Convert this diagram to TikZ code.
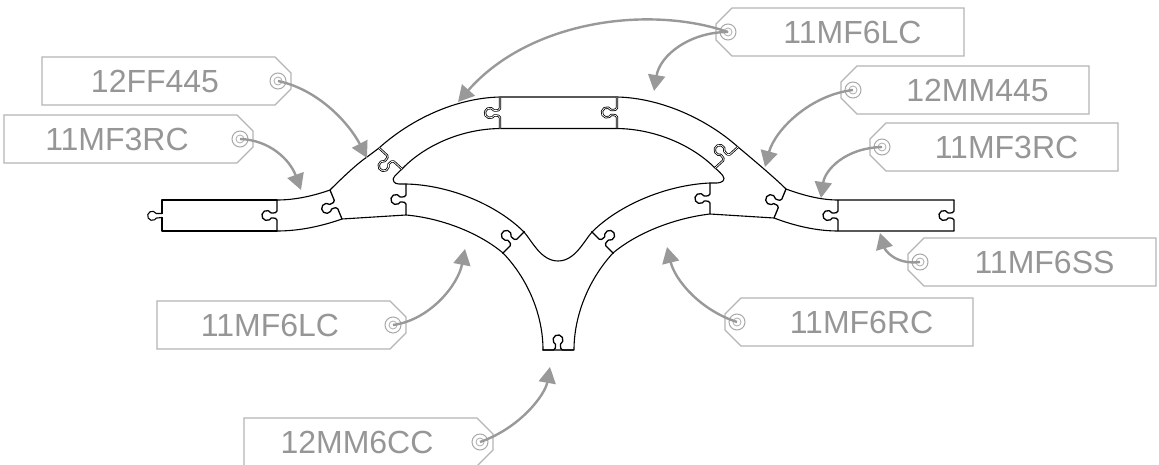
\documentclass[tikz,border=0pt]{standalone}
\usepackage{fontspec}
\setmainfont{Liberation Sans}
\usetikzlibrary{arrows.meta}
\definecolor{rail}{HTML}{000000}
\definecolor{tagedge}{HTML}{B4B4B4}
\definecolor{taglabel}{HTML}{969696}
\definecolor{tagring}{HTML}{A8A8A8}
\definecolor{pointer}{HTML}{999999}
\tikzset{
  railedge/.style={draw=rail, line width=1.1pt, line cap=round, line join=round},
  railjoint/.style={draw=rail, line width=1.3pt, line join=round},
  raildouble/.style={draw=rail, line width=0.8pt, double=white, double distance=0.7pt, line join=round},
  tagline/.style={draw=tagedge, line width=1.1pt, line join=miter},
  tagtext/.style={text=taglabel, font=\fontsize{32}{36}\selectfont, inner sep=0pt},
  taghole/.style={circle, draw=tagring, line width=1pt, minimum size=16pt, inner sep=0pt},
  pointerline/.style={draw=pointer, line width=2.4pt, -{Triangle[length=16pt,width=17pt]}},
  joint/.pic={
    \draw[#1] (0,-15.6) -- (0,-4.6) .. controls (0,-2.8) and (-2,-2.5) .. (-5.8,-2.5)
      arc[start angle=-30, end angle=-330, radius=5] .. controls (-2,2.5) and (0,2.8) .. (0,4.6) -- (0,15.6);
  },
}
\begin{document}
\begin{tikzpicture}[x=1pt,y=-1pt]
  \useasboundingbox (0,0) rectangle (1159,465);
  \foreach \n/\x/\y/\t in {ff445/42/57/12FF445,mf3rcl/4/115/11MF3RC,mf6lclow/157/301/11MF6LC,mm6cc/244/418/12MM6CC}{
    \draw[tagline] (\x,\y) -- ++(233,0) -- ++(16,16) -- ++(0,16) -- ++(-16,16) -- ++(-233,0) -- cycle;
    \node[taghole] (\n-hole) at (\x+236,\y+24) {};
    \draw[tagline, line width=0.9pt] (\n-hole) circle (4);
    \node[tagtext] (\n) at (\x+113,\y+24) {\t};
  }
  \foreach \n/\x/\y/\t in {mf6lctop/716/8/11MF6LC,mm445/841/66/12MM445,mf3rcr/870/123/11MF3RC,mf6ss/908/238/11MF6SS,mf6rc/725/298/11MF6RC}{
    \draw[tagline] (\x,\y+16) -- ++(16,-16) -- ++(232,0) -- ++(0,48) -- ++(-232,0) -- ++(-16,-16) -- cycle;
    \node[taghole] (\n-hole) at (\x+12,\y+24) {};
    \draw[tagline, line width=0.9pt] (\n-hole) circle (4);
    \node[tagtext] (\n) at (\x+136.5,\y+24) {\t};
  }

  \draw[railedge] (277,200) -- (162,200) -- (162,213.5);
  \draw[railedge] (162,217.5) -- (162,231) -- (277,231);
  \draw[railedge] (162,213.5) -- (156.2,213.5) arc[start angle=-30, end angle=-330, radius=4.6] -- (162,217.5);
  \draw[railedge] (277,200) .. controls (295,200) and (313,196) .. (330,190)
    .. controls (343,177) and (358,163) .. (367,157) .. controls (371,154) and (375,151) .. (379,148)
    .. controls (410,120) and (455,98) .. (500,97) -- (617,97)
    .. controls (662,98) and (708,120) .. (738,147)
    .. controls (750,157) and (775,178) .. (786,189)
    .. controls (805,196) and (822,200) .. (838,200) -- (954,200);
  \draw[railedge] (277,231) .. controls (300,231) and (322,226) .. (342,219) -- (406,215)
    .. controls (440,218) and (478,232) .. (503,253)
    .. controls (528,279) and (543,315) .. (543,350) -- (574,350)
    .. controls (574,315) and (589,279) .. (613,253)
    .. controls (638,232) and (676,218) .. (710,214) -- (774,218)
    .. controls (795,226) and (817,231) .. (838,231) -- (954,231);
  \draw[railedge] (500,128.5) .. controls (462,129) and (425,145) .. (402,169)
    .. controls (396,175) and (391,178) .. (394,182) .. controls (396,184.5) and (400,184) .. (406,184)
    .. controls (450,185) and (497,205) .. (524,232)
    .. controls (532,241) and (541,261) .. (558,261) .. controls (575,261) and (584,241) .. (592,232)
    .. controls (619,205) and (666,185) .. (710,183)
    .. controls (716,183) and (720,183.5) .. (723,181) .. controls (726,178) and (722,174) .. (715,168)
    .. controls (692,145) and (655,129) .. (617,128.5) -- (500,128.5);

  \foreach \x/\y/\r in {277/215.5/0,336/204.5/22.5,406/199.5/0,513.5/242.5/-45,602.5/242.5/225,558/350/270,710/198.5/0,780/203.5/-22.5,838/215.5/0,954/215.5/0}{
    \pic[rotate=\r] at (\x,\y) {joint=railjoint};
  }
  \foreach \x/\y/\r in {390.5/158.5/47.4,500/113/0,617/112.5/0,726.5/157.5/-47.6}{
    \pic[rotate=\r] at (\x,\y) {joint=raildouble};
  }

  \coordinate (ff445-end) at (367,158);
  \coordinate (mf3rcl-end) at (301,190);
  \coordinate (mf6lctop-enda) at (458,102);
  \coordinate (mf6lctop-endb) at (654,91);
  \coordinate (mm445-end) at (765,167);
  \coordinate (mf3rcr-end) at (821,198);
  \coordinate (mf6ss-end) at (880,233);
  \coordinate (mf6rc-end) at (667,247);
  \coordinate (mf6lclow-end) at (465,249);
  \coordinate (mm6cc-end) at (550,367);
  \draw[pointerline] (ff445-hole.center) .. controls (320,90) and (350,125) .. (ff445-end);
  \draw[pointerline] (mf3rcl-hole.center) .. controls (270,140) and (290,160) .. (mf3rcl-end);
  \draw[pointerline] (mf6lctop-hole.center) .. controls (650,5) and (530,20) .. (mf6lctop-enda);
  \draw[pointerline] (mf6lctop-hole.center) .. controls (690,32) and (660,55) .. (mf6lctop-endb);
  \draw[pointerline] (mm445-hole.center) .. controls (810,95) and (775,130) .. (mm445-end);
  \draw[pointerline] (mf3rcr-hole.center) .. controls (845,148) and (825,170) .. (mf3rcr-end);
  \draw[pointerline] (mf6ss-hole.center) .. controls (895,265) and (885,250) .. (mf6ss-end);
  \draw[pointerline] (mf6rc-hole.center) .. controls (700,310) and (675,280) .. (mf6rc-end);
  \draw[pointerline] (mf6lclow-hole.center) .. controls (430,320) and (458,285) .. (mf6lclow-end);
  \draw[pointerline] (mm6cc-hole.center) .. controls (520,428) and (545,395) .. (mm6cc-end);
\end{tikzpicture}
\end{document}
